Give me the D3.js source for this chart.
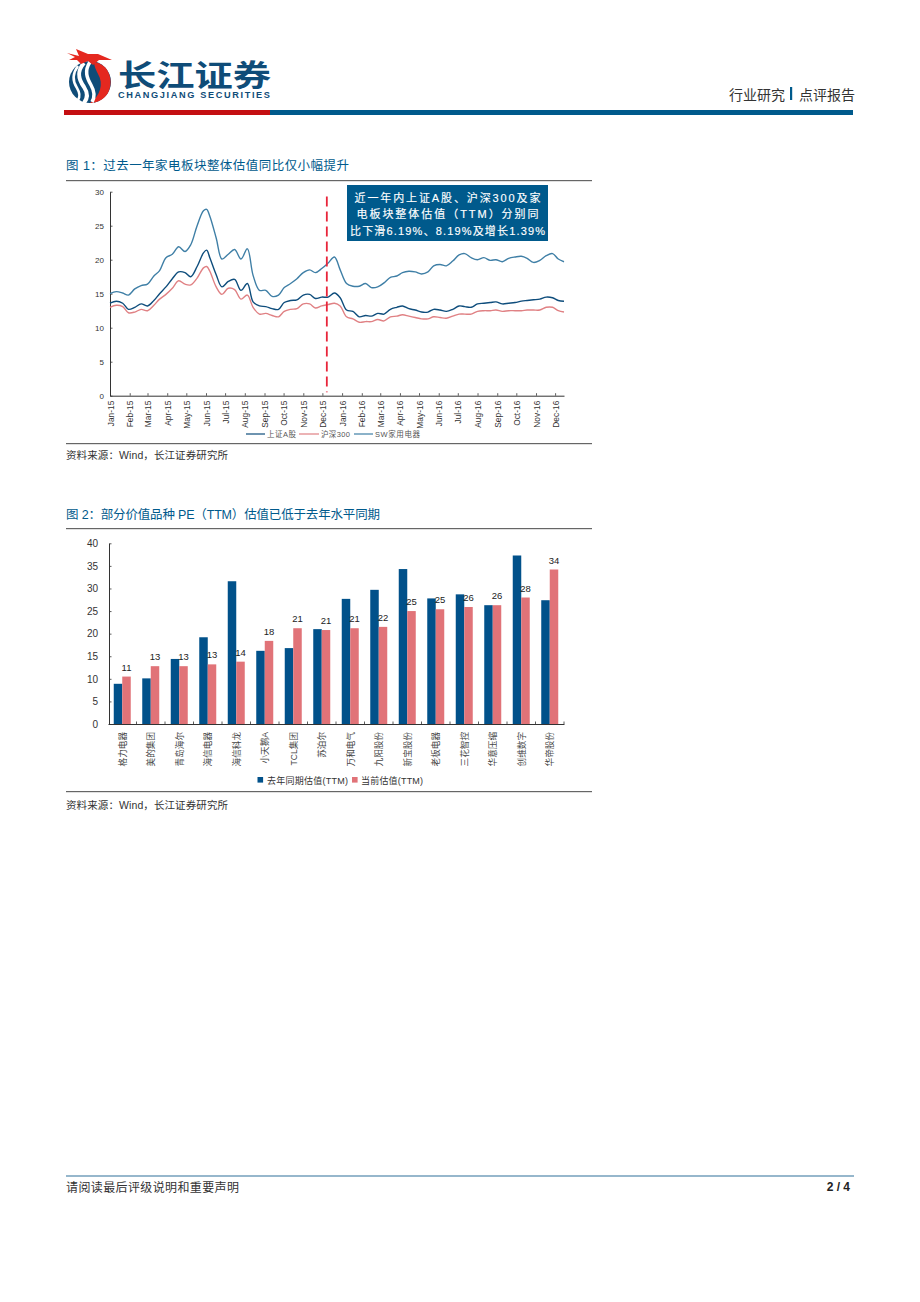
<!DOCTYPE html>
<html><head><meta charset="utf-8">
<script src="https://cdn.jsdelivr.net/npm/d3@7"></script>
<style>
html,body{margin:0;padding:0;background:#fff}
svg{display:block}
text{font-family:"Liberation Sans","Noto Sans CJK SC",sans-serif}
</style></head><body>
<div id="page"></div>
<script>
// ---------- Chart 1 data: valuation (TTM), days after 2015-01-01
const startDate = "2015-01-01";
const sampleDays = [0,10,20,29,39,49,59,69,78,88,98,108,118,127,137,147,152,157,167,176,186,196,206,216,225,235,245,255,265,274,284,294,304,314,323,333,343,353,362,372,382,392,402,411,421,431,441,451,460,470,480,490,500,509,519,529,539,549,558,568,578,588,598,607,617,627,637,647,656,666,676,686,696,705,714];
const shA = [13.6,13.9,13.6,12.7,13.0,13.5,13.2,14.0,15.0,16.0,17.2,18.2,18.1,17.5,19.0,21.0,21.4,20.3,17.8,16.0,16.8,17.1,15.5,16.5,13.8,13.2,13.1,12.8,12.7,13.7,14.0,14.1,14.8,14.9,14.3,14.5,14.5,15.1,14.4,12.6,12.4,11.6,11.8,11.7,12.1,12.0,12.7,13.0,13.2,12.8,12.6,12.3,12.3,12.7,12.6,12.4,12.7,13.2,13.1,13.0,13.5,13.6,13.7,13.8,13.5,13.6,13.7,13.9,14.0,14.1,14.2,14.5,14.4,14.0,13.9];
const hs300 = [13.0,13.3,13.1,12.2,12.3,12.7,12.5,13.3,14.2,14.9,15.8,16.9,16.4,16.3,17.3,18.8,19.0,18.3,16.0,14.9,15.8,15.6,14.2,14.8,13.0,12.0,12.1,11.8,11.6,12.4,12.7,12.8,13.5,13.5,12.9,13.2,13.4,13.6,13.2,11.6,11.3,10.8,10.9,10.9,11.2,11.0,11.6,11.7,11.9,11.7,11.5,11.3,11.3,11.6,11.5,11.4,11.7,12.0,12.0,12.0,12.4,12.5,12.5,12.6,12.4,12.5,12.5,12.5,12.6,12.6,12.6,13.0,13.0,12.5,12.3];
const swAppliance = [15.0,15.3,15.1,14.8,15.7,16.2,16.4,17.6,18.4,20.3,20.8,21.9,21.2,22.2,25.0,27.2,27.4,26.4,23.2,20.1,20.8,21.5,20.1,21.6,17.7,15.5,15.5,14.6,14.8,15.9,16.5,17.2,18.1,18.5,18.1,18.7,19.5,20.4,18.5,16.5,16.1,16.1,16.5,15.9,16.0,16.6,17.4,17.6,18.1,18.3,18.2,17.9,18.2,19.1,19.3,19.1,19.8,20.7,20.9,20.3,20.0,20.3,19.9,20.0,19.7,20.2,20.4,20.5,20.2,19.6,19.9,20.6,20.9,20.1,19.7];
const lineNames = ["上证A股","沪深300","SW家用电器"];
const yTicks1 = [0,5,10,15,20,25,30];
const markerDate = "2015-12-08";
const noteLines = ["近一年内上证A股、沪深300及家","电板块整体估值（TTM）分别同","比下滑6.19%、8.19%及增长1.39%"];

// ---------- Chart 2 data
const companies = ["格力电器","美的集团","青岛海尔","海信电器","海信科龙","小天鹅A","TCL集团","苏泊尔","万和电气","九阳股份","新宝股份","老板电器","三花智控","华意压缩","创维数字","华帝股份"];
const lastYearPE = [8.9,10.1,14.4,19.2,31.6,16.2,16.8,21.0,27.7,29.7,34.3,27.8,28.7,26.3,37.3,27.4];
const currentPE = [10.5,12.8,12.8,13.2,13.8,18.4,21.2,20.8,21.2,21.5,25.0,25.4,25.9,26.3,28.0,34.2];
const barNames = ["去年同期估值(TTM)","当前估值(TTM)"];
const yTicks2 = [0,5,10,15,20,25,30,35,40];

const BLUE="#005a8c", RED="#c40f12", BARBLUE="#01518a", BARPINK="#e17378";
const svg=d3.select("#page").append("svg").attr("width",920).attr("height",1302);

function txt(g,x,y,s,size,fill,opt={}){
  const t=g.append("text").attr("x",x).attr("y",y).attr("font-size",size).attr("fill",fill).text(s);
  if(opt.anchor)t.attr("text-anchor",opt.anchor);
  if(opt.weight)t.attr("font-weight",opt.weight);
  if(opt.len)t.attr("textLength",opt.len).attr("lengthAdjust",opt.adj||"spacing");
  return t;
}

// ---------- Header
const logo=svg.append("g");
logo.append("circle").attr("cx",90).attr("cy",82).attr("r",21).attr("fill","#0f4c78");
logo.append("path").attr("d","M94 62 C110 64 114 82 108 93 C103 101 95 103 90 103 C100 96 104 84 98 74 C96 70 94 66 94 62Z").attr("fill","#e5281f");
[["M84 63 C76 72 79 80 84 87 C88 93 88 98 84 103",4],["M90 62 C84 71 87 78 91 85 C95 92 95 97 92 102",3.5],["M78 66 C72 74 73 82 77 88 C80 93 80 97 78 100",2.5]].forEach(d=>
  logo.append("path").attr("d",d[0]).attr("fill","none").attr("stroke","#fff").attr("stroke-width",d[1]));
logo.append("path").attr("d","M67 53 L79 56 L76 49 L88 54 L98 54 L112 60 L99 60 L93 65 L88 61 L81 64 L77 60 L69 60 L75 57Z").attr("fill","#e5281f");
txt(logo,118,86,"长江证券",30,"#0f4c78",{weight:"bold",len:153,adj:"spacingAndGlyphs"});
txt(logo,118,98,"CHANGJIANG SECURITIES",9.2,"#0f4c78",{weight:"bold",len:152});
svg.append("rect").attr("x",64).attr("y",110).attr("width",206).attr("height",5).attr("fill",RED);
svg.append("rect").attr("x",270).attr("y",110).attr("width",583).attr("height",5).attr("fill",BLUE);
txt(svg,729,100,"行业研究",14,"#333");
svg.append("rect").attr("x",790).attr("y",87).attr("width",2.2).attr("height",13).attr("fill",BLUE);
txt(svg,799,100,"点评报告",14,"#333");

// ---------- Section frames
function frame(title,titleLen,titleY,ruleTop,ruleBot,srcY){
  txt(svg,66,titleY,title,12.5,BLUE,{len:titleLen});
  [ruleTop,ruleBot].forEach(y=>svg.append("rect").attr("x",66).attr("y",y).attr("width",526).attr("height",1.2).attr("fill","#666"));
  txt(svg,66,srcY,"资料来源：Wind，长江证券研究所",10.5,"#333",{len:162});
}
frame("图 1：过去一年家电板块整体估值同比仅小幅提升",283,170,180,443,459);
frame("图 2：部分价值品种 PE（TTM）估值已低于去年水平同期",314,519,528,791,809);

function styleAxis(g){
  g.select(".domain").attr("stroke","#333").attr("stroke-width",1);
  g.selectAll(".tick line").attr("stroke","#333").attr("stroke-width",0.8);
  g.selectAll("text").attr("fill","#333");
}

// ---------- Chart 1
const parse=d3.utcParse("%Y-%m-%d");
const t0=parse(startDate);
const dates=sampleDays.map(d=>d3.utcDay.offset(t0,d));
const tEnd=d3.utcDay.offset(t0,714);
const x1=d3.scaleUtc().domain([t0,tEnd]).range([110,564]);
const y1=d3.scaleLinear().domain([0,30]).range([395.7,191.7]);
const c1=svg.append("g");
const ax1=c1.append("g").attr("transform","translate(110,0)")
  .call(d3.axisLeft(y1).tickValues(yTicks1).tickSizeOuter(0).tickSizeInner(-2.5).tickPadding(6));
ax1.selectAll("text").attr("font-size",8);styleAxis(ax1);
const monthStarts=d3.utcMonth.range(t0,tEnd);
const bx1=c1.append("g").attr("transform","translate(0,395.7)")
  .call(d3.axisBottom(x1).tickValues(monthStarts).tickFormat(d3.utcFormat("%b-%y")).tickSizeOuter(0).tickSizeInner(-2.5));
styleAxis(bx1);
bx1.selectAll("text").attr("font-size",8.4).attr("text-anchor","end").attr("dy",0)
  .attr("transform","translate(3,5) rotate(-90)").attr("y",0).attr("x",0);
const line=vals=>d3.line().x((d,i)=>x1(dates[i])).y(d=>y1(d)).curve(d3.curveCatmullRom.alpha(0.5))(vals);
const lineColors=["#0e4d7c","#e08184","#3f7fa6"];
[swAppliance,hs300,shA].forEach((v,i)=>{
  c1.append("path").attr("d",line(v)).attr("fill","none")
    .attr("stroke",[lineColors[2],lineColors[1],lineColors[0]][i]).attr("stroke-width",1.4);
});
c1.append("line").attr("x1",x1(parse(markerDate))).attr("x2",x1(parse(markerDate)))
  .attr("y1",y1(29.3)).attr("y2",y1(0.5)).attr("stroke","#e8253a").attr("stroke-width",1.8).attr("stroke-dasharray","10,5");
c1.append("rect").attr("x",347).attr("y",185).attr("width",201).attr("height",56).attr("fill",BLUE);
noteLines.forEach((s,i)=>{
  txt(c1,447.5,[202,218,235][i],s,11,"#fff",{anchor:"middle",len:[186,182,195][i]})
    .attr("stroke","#fff").attr("stroke-width",0.15);
});
// legend 1
const legX=[[246,265,267,29],[299,319,321,29],[354,373,375,45]];
legX.forEach((p,i)=>{
  c1.append("line").attr("x1",p[0]).attr("x2",p[1]).attr("y1",434).attr("y2",434).attr("stroke",lineColors[i]).attr("stroke-width",1.2);
  txt(c1,p[2],437,lineNames[i],7.5,"#555",{len:p[3]});
});

// ---------- Chart 2
const x2=d3.scaleBand().domain(companies).range([108,564]);
const barW=8.5;
const y2=d3.scaleLinear().domain([0,40]).range([724,543.3]);
const c2=svg.append("g");
c2.selectAll("rect.a").data(companies).join("rect").attr("class","a")
  .attr("x",d=>x2(d)+x2.bandwidth()/2-barW).attr("width",barW)
  .attr("y",(d,i)=>y2(lastYearPE[i])).attr("height",(d,i)=>y2(0)-y2(lastYearPE[i])).attr("fill",BARBLUE);
c2.selectAll("rect.b").data(companies).join("rect").attr("class","b")
  .attr("x",d=>x2(d)+x2.bandwidth()/2).attr("width",barW)
  .attr("y",(d,i)=>y2(currentPE[i])).attr("height",(d,i)=>y2(0)-y2(currentPE[i])).attr("fill",BARPINK);
c2.selectAll("text.v").data(companies).join("text").attr("class","v")
  .attr("x",d=>x2(d)+x2.bandwidth()/2+barW/2).attr("y",(d,i)=>y2(currentPE[i])-6)
  .attr("text-anchor","middle").attr("font-size",9.5).attr("fill","#222").text((d,i)=>Math.round(currentPE[i]));
const ax2=c2.append("g").attr("transform","translate(109,0)")
  .call(d3.axisLeft(y2).tickValues(yTicks2).tickSizeOuter(0).tickSizeInner(-2.5).tickPadding(11));
ax2.selectAll("text").attr("font-size",10);styleAxis(ax2);
const bx2=c2.append("g").attr("transform","translate(0,724)")
  .call(d3.axisBottom(x2).tickSizeOuter(0).tickValues([]));
styleAxis(bx2);
c2.append("g").selectAll("line").data(companies).join("line")
  .attr("x1",d=>x2(d)+x2.bandwidth()).attr("x2",d=>x2(d)+x2.bandwidth()).attr("y1",724).attr("y2",721.5).attr("stroke","#333").attr("stroke-width",0.8);
c2.selectAll("text.c").data(companies).join("text").attr("class","c")
  .attr("transform",d=>`translate(${x2(d)+x2.bandwidth()/2+3.5},732) rotate(-90)`)
  .attr("text-anchor","end").attr("font-size",8.6).attr("fill","#444").text(d=>d);
[[257.5,267,BARBLUE],[352,361,BARPINK]].forEach((p,i)=>{
  c2.append("rect").attr("x",p[0]).attr("y",777).attr("width",5.6).attr("height",5.6).attr("fill",p[2]);
  txt(c2,p[1],784,barNames[i],9,"#333",{len:[81,62][i]});
});

// ---------- Footer
svg.append("rect").attr("x",66).attr("y",1175.5).attr("width",788).attr("height",1).attr("fill","#2f7199");
txt(svg,66,1192,"请阅读最后评级说明和重要声明",12,"#333",{len:173});
txt(svg,850,1191,"2 / 4",12,"#222",{anchor:"end",weight:"bold"});
</script>
</body></html>
